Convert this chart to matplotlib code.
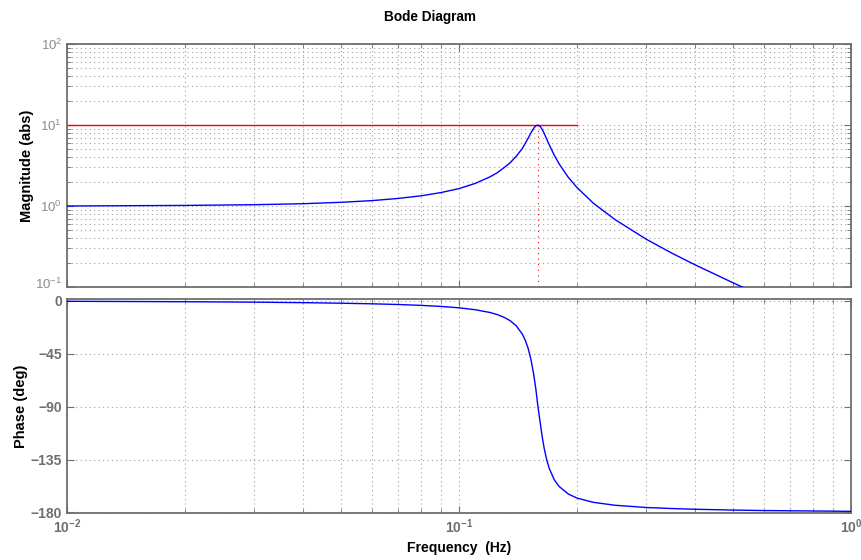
import matplotlib
matplotlib.use("Agg")
import matplotlib.pyplot as plt
import matplotlib.transforms as mtransforms
from matplotlib.ticker import LogLocator, NullFormatter, FixedLocator
import numpy as np

plt.rcParams['font.family'] = ['Liberation Sans', 'DejaVu Sans']

### donnees
freq = [0.01, 0.02, 0.03, 0.04, 0.05, 0.06, 0.07, 0.08, 0.09, 0.1, 0.11, 0.12,
        0.125, 0.13, 0.135, 0.14, 0.145, 0.1475, 0.15, 0.1525, 0.155, 0.157,
        0.159, 0.161, 0.163, 0.165, 0.1675, 0.17, 0.175, 0.18, 0.19, 0.2, 0.22,
        0.25, 0.3, 0.35, 0.4, 0.5, 0.6, 0.7, 1.0]
mag = [1.0, 1.016, 1.037, 1.067, 1.11, 1.165, 1.24, 1.335, 1.465, 1.64, 1.90,
       2.29, 2.56, 2.95, 3.41, 4.12, 5.1, 5.92, 6.83, 7.94, 9.07, 9.78, 9.95,
       9.63, 8.81, 7.82, 6.64, 5.66, 4.23, 3.32, 2.26, 1.69, 1.086, 0.68, 0.39,
       0.26, 0.188, 0.1127, 0.0757, 0.0546, 0.026]
phase = [-0.36, -0.73, -1.1, -1.53, -2.0, -2.52, -3.1, -3.85, -4.75, -5.9,
         -7.54, -9.9, -11.6, -13.8, -16.8, -21.3, -28.2, -33.3, -40.1, -49.5,
         -62.1, -74.7, -90.0, -103.0, -115.5, -125.8, -135.6, -142.8, -152.2,
         -157.9, -164.3, -167.8, -171.4, -173.9, -175.8, -176.7, -177.3, -178.0,
         -178.4, -178.6, -179.07]

f_res = 0.159      # frequence de resonance
mag_max = 10.0     # niveau du pic
f_ref_end = 0.2    # fin du trait horizontal

gris = '#6e6e6e'
gris_clair = '#8c8c8c'
grille = dict(color='#a0a0a0', linestyle=(0, (1, 3)), linewidth=0.8)

fig = plt.figure(figsize=(8.61, 5.60), dpi=100)
ax1 = fig.add_axes([0.0778, 0.4875, 0.9106, 0.434])
ax2 = fig.add_axes([0.0778, 0.0839, 0.9106, 0.382])

### amplitude
ax1.loglog(freq, mag, color='#0000ff', linewidth=1.0, zorder=3)
ax1.plot([freq[0], f_ref_end], [mag_max, mag_max], color='#ff0000', linewidth=1.0, zorder=2)
ax1.plot([f_res, f_res], [0.1, mag[freq.index(f_res)]], color='#ff0000',
         linestyle=(0, (1, 4)), linewidth=0.8, zorder=2)
ax1.set_xlim(0.01, 1)
ax1.set_ylim(0.1, 100)
ax1.set_ylabel('Magnitude (abs)', fontsize=10.5, fontweight='bold', labelpad=1)
ax1.xaxis.set_major_formatter(NullFormatter())
ax1.xaxis.set_minor_formatter(NullFormatter())
ax1.yaxis.set_minor_locator(LogLocator(base=10, subs=np.arange(2, 10)))
ax1.yaxis.set_minor_formatter(NullFormatter())
ax1.grid(True, which='both', **grille)

### phase
ax2.semilogx(freq, phase, color='#0000ff', linewidth=1.0, zorder=3)
ax2.set_xlim(0.01, 1)
ax2.set_ylim(-180.5, 1.5)
ax2.yaxis.set_major_locator(FixedLocator([0, -45, -90, -135, -180]))
ax2.set_ylabel('Phase (deg)', fontsize=10.5, fontweight='bold', labelpad=2)
ax2.set_xlabel('Frequency  (Hz)', fontsize=10, fontweight='bold', labelpad=3)
ax2.xaxis.set_minor_formatter(NullFormatter())
ax2.grid(True, which='major', axis='y', **grille)
ax2.grid(True, which='both', axis='x', **grille)

for ax in (ax1, ax2):
    ax.xaxis.set_minor_locator(LogLocator(base=10, subs=np.arange(2, 10)))
    ax.tick_params(which='both', direction='in', top=True, right=True,
                   colors=gris, labelcolor=gris, labelsize=10)
    ax.tick_params(which='major', length=5)
    ax.tick_params(which='minor', length=3)
    for sp in ax.spines.values():
        sp.set_color(gris)
        sp.set_linewidth(1.3)

ax1.tick_params(axis='y', labelsize=9.5)
for lbl in ax2.get_xticklabels() + ax2.get_yticklabels():
    lbl.set_fontweight('bold')
for lbl in ax1.get_yticklabels():
    lbl.set_color(gris_clair)

fig.text(0.5, 0.97, 'Bode Diagram', ha='center', va='center', fontsize=9.8, fontweight='bold')

# remonter un peu le 10^-1 pour ne pas toucher le 0 de la phase
fig.canvas.draw()
decale = mtransforms.ScaledTranslation(0, 4 / 100, fig.dpi_scale_trans)
for tick in ax1.yaxis.get_major_ticks():
    if abs(tick.get_loc() - 0.1) < 1e-9:
        tick.label1.set_transform(tick.label1.get_transform() + decale)

fig.savefig('out.png', dpi=100)
